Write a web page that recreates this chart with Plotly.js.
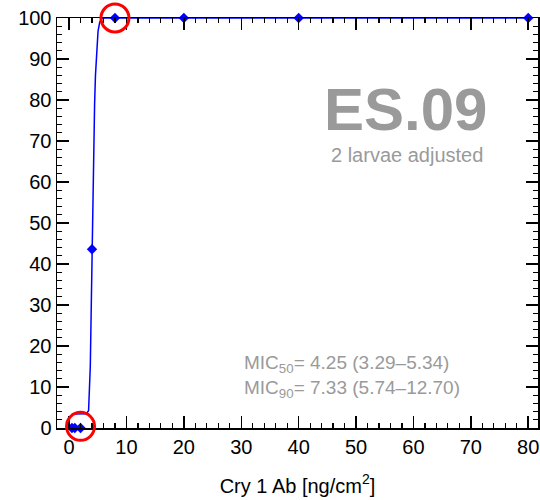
<!DOCTYPE html>
<html>
<head>
<meta charset="utf-8">
<script src="https://cdn.plot.ly/plotly-3.0.1.min.js"></script>
<style>
  html, body { margin: 0; padding: 0; background: #fff; }
  #chart { width: 540px; height: 500px; }
</style>
</head>
<body>
<div id="chart"></div>
<script>
// Observed mortality at each dose
const doseObserved = [0.5, 1, 2, 4, 8, 20, 40, 80];
const mortalityObserved = [0, 0, 0, 43.6, 100, 100, 100, 100];

// Fitted dose-response curve
const doseFit = [0.5, 2.0, 3.0, 3.4, 3.55, 3.7, 3.85, 4.0, 4.15, 4.3, 4.45, 4.6, 4.8, 5.05, 5.35, 5.7, 6.2, 8, 20, 40, 80];
const mortalityFit = [3.4, 3.4, 3.5, 4.2, 8, 15, 28, 43.6, 58, 70, 79, 86, 92.5, 96.8, 99, 99.9, 100, 100, 100, 100, 100];

// Highlighted doses (mortality given as fraction of the axis height)
const circledDose = [8, 2];
const circledLevel = [1, 0.004];

const tickFont = { family: 'Liberation Sans, Arial, sans-serif', size: 20, color: '#000' };
const grey = '#9a9a9a';

const traces = [
  {
    x: doseFit, y: mortalityFit, type: 'scatter', mode: 'lines',
    line: { color: '#0000ff', width: 1.5 }, hoverinfo: 'skip'
  },
  {
    x: doseObserved, y: mortalityObserved, type: 'scatter', mode: 'markers',
    marker: { symbol: 'diamond', size: 8, color: '#0000ff' }, cliponaxis: false
  }
];

const axisCommon = {
  showgrid: false, zeroline: false, showline: true, linecolor: '#000', linewidth: 1.5,
  mirror: 'allticks', ticks: 'inside', ticklen: 12, tickwidth: 1.5, tickcolor: '#000',
  tickfont: tickFont, dtick: 10, tick0: 0,
  minor: { dtick: 2, ticklen: 5, tickwidth: 1.2, tickcolor: '#000', ticks: 'inside' }
};

const circleShapes = circledDose.map((d, i) => ({
  type: 'circle', xref: 'x', yref: 'paper', xsizemode: 'pixel', ysizemode: 'pixel',
  xanchor: d, yanchor: circledLevel[i],
  x0: -14, x1: 14, y0: -14, y1: 14,
  line: { color: '#ff0000', width: 3 }, layer: 'above'
}));

const layout = {
  width: 540, height: 500,
  margin: { l: 57, r: 2, t: 18, b: 72 },
  paper_bgcolor: '#fff', plot_bgcolor: '#fff',
  showlegend: false,
  xaxis: Object.assign({}, axisCommon, {
    range: [-2.1, 81.7],
    title: { text: 'Cry 1 Ab [ng/cm<sup>2</sup>]', font: tickFont, standoff: 22 }
  }),
  yaxis: Object.assign({}, axisCommon, { range: [0, 100] }),
  shapes: circleShapes,
  annotations: [
    {
      text: '<b>ES.09</b>', xref: 'paper', yref: 'paper', x: 0.725, y: 0.778,
      xanchor: 'center', yanchor: 'middle', showarrow: false,
      font: { family: 'Liberation Sans, Arial, sans-serif', size: 60, color: grey }
    },
    {
      text: '2 larvae adjusted', xref: 'paper', yref: 'paper', x: 0.727, y: 0.667,
      xanchor: 'center', yanchor: 'middle', showarrow: false,
      font: { family: 'Liberation Sans, Arial, sans-serif', size: 20, color: grey }
    },
    {
      text: 'MIC<sub>50</sub>= 4.25 (3.29–5.34)<br>MIC<sub>90</sub>= 7.33 (5.74–12.70)',
      xref: 'paper', yref: 'paper', x: 0.385, y: 0.125,
      xanchor: 'left', yanchor: 'middle', align: 'left', showarrow: false,
      font: { family: 'Liberation Sans, Arial, sans-serif', size: 19, color: grey }
    }
  ]
};

Plotly.newPlot('chart', traces, layout, { displayModeBar: false, staticPlot: true });
</script>
</body>
</html>
